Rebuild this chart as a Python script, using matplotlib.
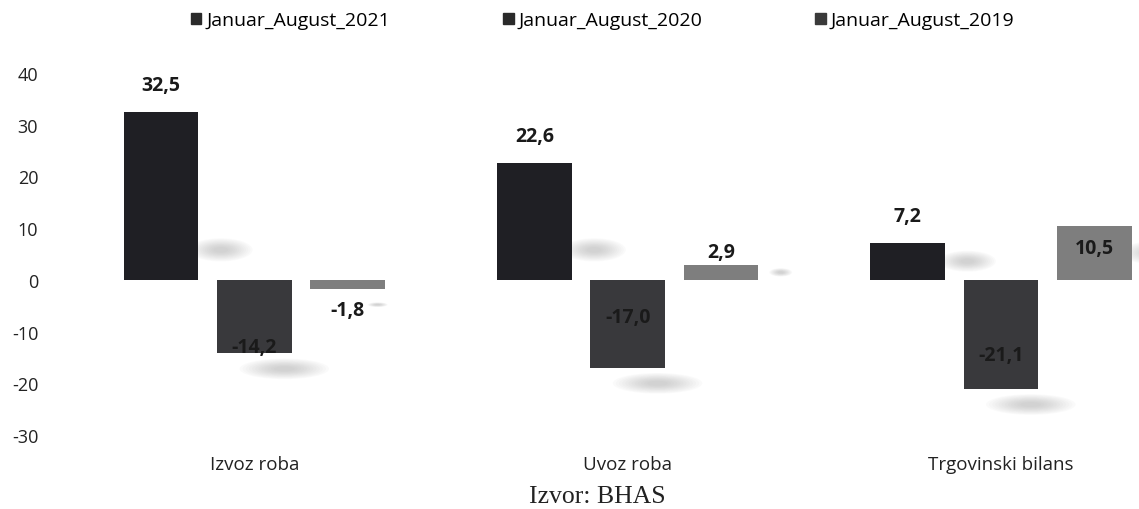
"""Izvoz, uvoz i trgovinski bilans, Januar-August 2019-2021."""

import matplotlib.pyplot as plt
from matplotlib.patches import Ellipse, Patch
import numpy as np

categories = ['Izvoz roba', 'Uvoz roba', 'Trgovinski bilans']
series = ['Januar_August_2021', 'Januar_August_2020', 'Januar_August_2019']
values_2021 = [32.5, 22.6, 7.2]
values_2020 = [-14.2, -17.0, -21.1]
values_2019 = [-1.8, 2.9, 10.5]
yticks = [-30, -20, -10, 0, 10, 20, 30, 40]

colors = ['#1f1f24', '#39393c', '#7e7e7e']
legend_colors = ['#2a2a2a', '#2a2a2a', '#3a3a3a']
# where each value label sits, relative to the bar end (data units), per series
label_shift = [[5.2, 5.3, 5.2], [1.2, 9.8, 6.6], [-4.0, 2.5, -4.3]]

plt.rcParams['font.family'] = ['Open Sans', 'DejaVu Sans']

fig = plt.figure(figsize=(11.39, 5.1), dpi=100)
ax = fig.add_axes([0.053, 0.145, 0.947, 0.71])

x = np.arange(len(categories))
width = 0.2
offsets = [-0.25, 0, 0.25]
all_values = [values_2021, values_2020, values_2019]

for i, (name, vals) in enumerate(zip(series, all_values)):
    xs = x + offsets[i]
    # soft, blurry shadow beside / under each bar
    for xx, v in zip(xs, vals):
        size = min(1.0, abs(v) / 8)
        if v >= 0:
            cx, cy, w, h = xx + width / 2 + 0.06, min(v * 0.5, 5.8), 0.17, 4.5
        else:
            cx, cy, w, h = xx + 0.08, v - 3, 0.24, 4.0
        for k in range(12):
            s = (1 - k * 0.07) * size
            ax.add_patch(Ellipse((cx, cy), w * s, h * s, color='#8a8a8a',
                                 alpha=0.035, lw=0, zorder=1))
    ax.bar(xs, vals, width, color=colors[i], label=name, zorder=2)

# value labels
for i, vals in enumerate(all_values):
    for j, v in enumerate(vals):
        ax.text(x[j] + offsets[i], v + label_shift[i][j], f'{v:.1f}'.replace('.', ','),
                ha='center', va='center', fontsize=14, fontweight='bold',
                color='#1a1a1a', zorder=3)

ax.set_xlim(-0.52, 2.37)
ax.set_ylim(-30, 40)
ax.set_yticks(yticks)
ax.set_yticklabels([str(t) for t in yticks], fontsize=13, color='#222222')
ax.tick_params(axis='y', length=0, pad=16)
ax.set_xticks([])
for s in ax.spines.values():
    s.set_visible(False)

for xx, c in zip(x, categories):
    ax.text(xx, -35.5, c, ha='center', va='center', fontsize=13.5, color='#222222')

fig.text(0.524, 0.026, 'Izvor: BHAS', ha='center', va='center', fontsize=18.5,
         family='Liberation Serif', color='#222222')

handles = [Patch(color=c) for c in legend_colors]
fig.legend(handles, series, loc='upper center', bbox_to_anchor=(0.529, 1.01),
           ncol=3, frameon=False, handlelength=0.55, handleheight=0.55,
           handletextpad=0.25, columnspacing=5.8, fontsize=14)

fig.savefig('out.png', dpi=100)
